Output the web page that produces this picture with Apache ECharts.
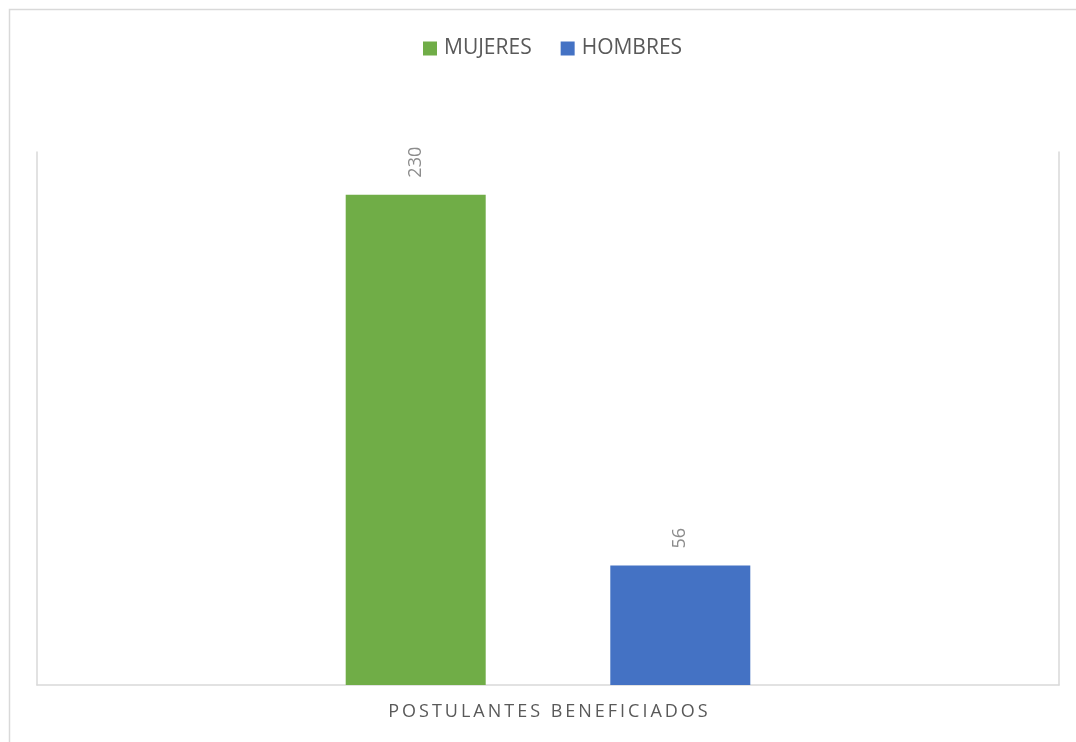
<!DOCTYPE html>
<html>
<head>
<meta charset="utf-8">
<script src="https://cdn.jsdelivr.net/npm/echarts@6/dist/echarts.min.js"></script>
<style>
  html, body { margin: 0; padding: 0; background: #fff; overflow: hidden; }
  #chart { width: 1076px; height: 742px; }
</style>
</head>
<body>
<div id="chart"></div>
<script>
// datos del gráfico
var categories = ['POSTULANTES BENEFICIADOS']
var seriesNames = ['MUJERES', 'HOMBRES']
var mujeres = [230]
var hombres = [56]
var colors = ['#70AD47', '#4472C4']

var chart = echarts.init(document.getElementById('chart'))

var labelStyle = {
  show: true,
  position: 'top',
  rotate: 90,
  align: 'left',
  verticalAlign: 'middle',
  distance: 17,
  color: '#8c8c8c',
  fontSize: 18,
  fontFamily: 'Open Sans'
}

chart.setOption({
  backgroundColor: '#fff',
  textStyle: { fontFamily: 'Open Sans' },
  graphic: [{
    // borde exterior (solo se ven arriba e izquierda)
    type: 'polyline',
    shape: { points: [[9.5, 800], [9.5, 9.5], [1200, 9.5]] },
    style: { fill: null, stroke: '#d9d9d9', lineWidth: 1.5 },
    silent: true
  }],
  legend: {
    top: 33,
    left: 418,
    icon: 'rect',
    itemWidth: 14,
    itemHeight: 14,
    itemGap: 29,
    textStyle: { fontSize: 21, color: '#595959', padding: [0, 0, 0, 2] },
    data: seriesNames
  },
  grid: {
    left: 37,
    right: 17,
    top: 152,
    bottom: 57,
    show: false
  },
  xAxis: {
    type: 'category',
    data: categories,
    axisLine: { lineStyle: { color: '#d9d9d9', width: 1.5 } },
    axisTick: { show: false },
    axisLabel: {
      color: '#595959',
      fontSize: 18,
      margin: 18,
      formatter: function (v) {
        return v.split('').join('\u2009')
      }
    }
  },
  yAxis: [{
    type: 'value',
    min: 0,
    max: 250,
    position: 'left',
    axisLine: { show: true, lineStyle: { color: '#d9d9d9', width: 1.5 } },
    axisTick: { show: false },
    axisLabel: { show: false },
    splitLine: { show: false }
  }, {
    type: 'value',
    min: 0,
    max: 250,
    position: 'right',
    axisLine: { show: true, lineStyle: { color: '#d9d9d9', width: 1.5 } },
    axisTick: { show: false },
    axisLabel: { show: false },
    splitLine: { show: false }
  }],
  series: [
    {
      type: 'bar',
      name: seriesNames[0],
      data: mujeres,
      barWidth: 140,
      barGap: '89%',
      itemStyle: { color: colors[0] },
      label: labelStyle
    },
    {
      type: 'bar',
      name: seriesNames[1],
      data: hombres,
      barWidth: 140,
      barGap: '89%',
      itemStyle: { color: colors[1] },
      label: labelStyle
    }
  ]
})
</script>
</body>
</html>
